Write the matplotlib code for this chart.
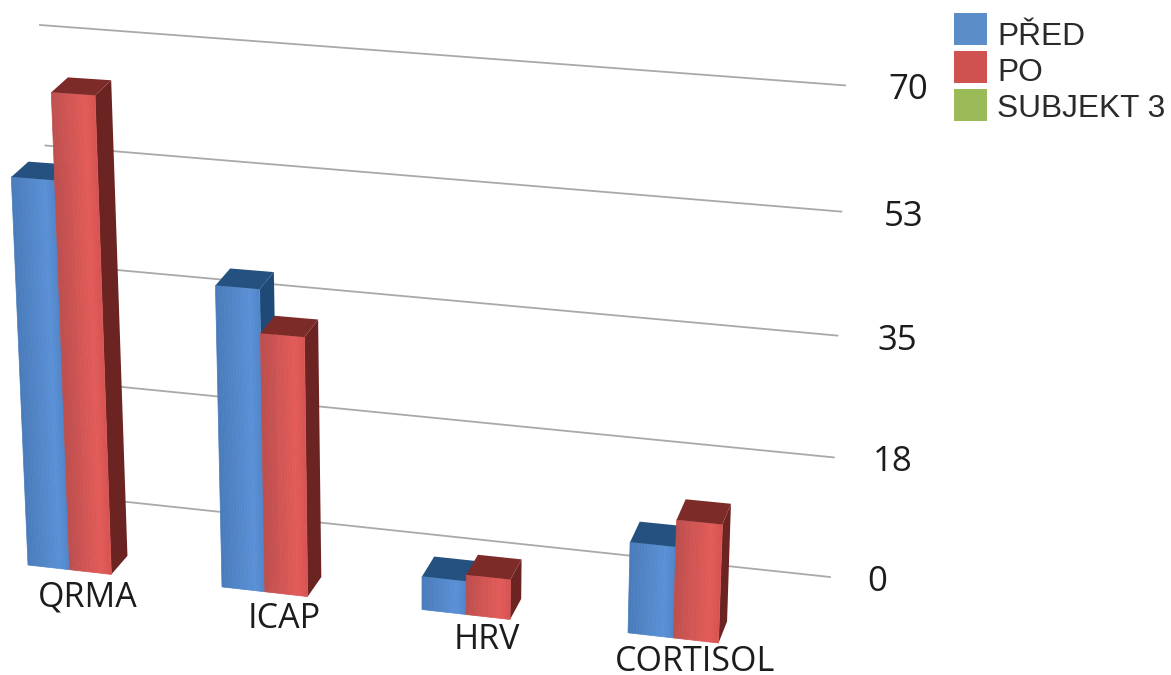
import numpy as np
import matplotlib
matplotlib.use('Agg')
import matplotlib.pyplot as plt
from matplotlib.colors import to_rgb
from matplotlib.patches import Polygon, Rectangle

# Values
categories = ['QRMA', 'ICAP', 'HRV', 'CORTISOL']
pred = [55.7, 42.6, 4.6, 12.4]
po = [68.3, 36.4, 5.5, 16.1]
series_names = ['PŘED', 'PO', 'SUBJEKT 3']
y_ticks = [0, 18, 35, 53, 70]

front_colors = {
    'PŘED': ('#4a7cbb', '#5a90d6', '#4f83c6'),
    'PO': ('#bf504e', '#e35b59', '#d4514f'),
}
top_colors = {'PŘED': '#24517f', 'PO': '#7c2b29'}
side_colors = {'PŘED': '#1f4a78', 'PO': '#6b2422'}
legend_colors = ['#5b8dc8', '#cf5250', '#9bbb59']


# The chart is a tilted 3D view, so values go through this before drawing
def project(x, depth, value):
    lean = 0.00011 * (x - 420)
    scale = 6.95 + 0.00057 * x
    base = 565 + 0.113 * (x - 28)
    sx = x + lean * scale * value + depth * (17.5 - 0.0125 * x)
    sy = base - scale * value - depth * (18 + 0.005 * x - 0.05 * value)
    return sx, sy


def grid_end(i, side):
    if side == 'left':
        return 62 - 5.5 * i, 495 - 113.5 * i - 1.0 * i * i
    return 830 + 3.75 * i, 577 - 118.5 * i - 1.1 * i * i


def draw_bar(ax, x, w, value, name):
    # front face in thin strips for the soft gradient
    c0, c1, c2 = [np.array(to_rgb(c)) for c in front_colors[name]]
    n = 16
    for k in range(n):
        t = k / n
        col = c0 + (c1 - c0) * t / 0.75 if t < 0.75 else c1 + (c2 - c1) * (t - 0.75) / 0.25
        xa, xb = x + w * t, x + w * (k + 1) / n
        ax.add_patch(Polygon([project(xa, 0, 0), project(xb, 0, 0), project(xb, 0, value), project(xa, 0, value)],
                             facecolor=col, edgecolor=col, linewidth=0.5, zorder=3))
    r = x + w
    ax.add_patch(Polygon([project(r, 0, 0), project(r, 1, 0), project(r, 1, value), project(r, 0, value)],
                         facecolor=side_colors[name], edgecolor='none', zorder=2))
    ax.add_patch(Polygon([project(x, 0, value), project(r, 0, value), project(r, 1, value), project(x, 1, value)],
                         facecolor=top_colors[name], edgecolor='none', zorder=3))


fig = plt.figure(figsize=(11.71, 6.75), dpi=100)
ax = fig.add_axes([0, 0, 1, 1])
ax.set_xlim(0, 1171)
ax.set_ylim(675, 0)
ax.axis('off')

# back wall lines and their labels
for i, tick in enumerate(y_ticks):
    xl, yl = grid_end(i, 'left')
    xr, yr = grid_end(i, 'right')
    ax.plot([xl, xr], [yl, yr], color='#a9a9a9', linewidth=1.3, zorder=1)
    ax.text(xr + 37 + 1.7 * i, yr + 14, str(tick), fontsize=25, family='Open Sans', color='#1c1c1c',
            ha='left', va='baseline')

for i, cat in enumerate(categories):
    left = 28 + 191 * i + 3 * i * i
    for j, (name, vals) in enumerate(zip(series_names[:2], [pred, po])):
        w = 41.5 + 0.006 * left
        draw_bar(ax, left + j * w, w, vals[i], name)
    cx = left + 60 + 2.3 * i
    ax.text(cx, 606 + 21.7 * i, cat, fontsize=24.5, family='Open Sans', color='#1c1c1c',
            ha='center', va='baseline', zorder=5)

# legend, SUBJEKT 3 has a swatch but no bars
for i, (name, col) in enumerate(zip(series_names, legend_colors)):
    ax.add_patch(Rectangle((954, 13 + 38 * i), 33, 32, facecolor=col, edgecolor='none'))
    ax.text(997, 45 + 36 * i, name, fontsize=22.8, family='Liberation Sans', color='#2a2a2a',
            ha='left', va='baseline')

plt.savefig('out.png', dpi=100)
